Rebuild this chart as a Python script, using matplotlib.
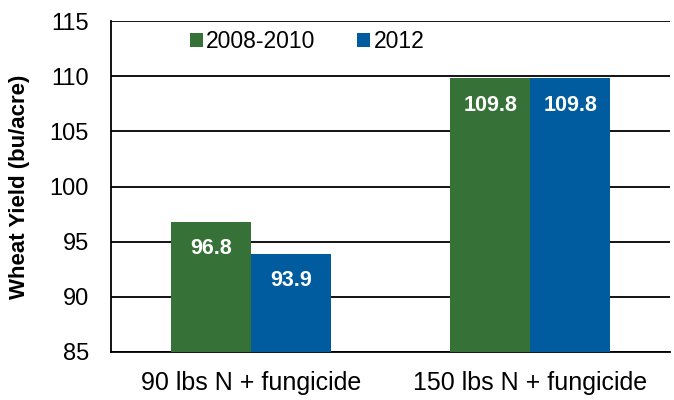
import numpy as np
import matplotlib
matplotlib.use("Agg")
import matplotlib.pyplot as plt

plt.rcParams['font.family'] = ['Liberation Sans Narrow', 'Liberation Sans', 'DejaVu Sans']

# yield data, bu/acre
treatments = ['90 lbs N + fungicide', '150 lbs N + fungicide']
years = ['2008-2010', '2012']
yield_0810 = [96.8, 109.8]
yield_2012 = [93.9, 109.8]
colors = ['#367237', '#005B9F']

fig = plt.figure(figsize=(6.74, 4), dpi=100)
ax = fig.add_axes([111 / 674, 48 / 400, 559 / 674, 331 / 400])

x = np.arange(len(treatments))
w = 0.286
bars1 = ax.bar(x - w / 2, yield_0810, w, color=colors[0], label=years[0], zorder=3)
bars2 = ax.bar(x + w / 2, yield_2012, w, color=colors[1], label=years[1], zorder=3)

for bars in (bars1, bars2):
    for b in bars:
        ax.annotate(f'{b.get_height():.1f}', (b.get_x() + b.get_width() / 2, b.get_height()),
                    xytext=(0, -12), textcoords='offset points', ha='center', va='top',
                    color='white', fontsize=15.5, fontweight='bold', zorder=4)

ax.set_ylim(85, 115)
ax.set_xlim(-0.5, 1.5)
ax.set_yticks(range(85, 116, 5))
ax.set_xticks(x)
ax.set_xticklabels(treatments)
ax.tick_params(axis='y', labelsize=17, length=0, pad=16)
ax.tick_params(axis='x', labelsize=18, length=0, pad=14)
ax.yaxis.grid(True, color='black', linewidth=1.3, zorder=0)
ax.set_axisbelow(True)
for s in ['top', 'right']:
    ax.spines[s].set_visible(False)
ax.spines['left'].set_linewidth(1.3)
ax.spines['bottom'].set_linewidth(1.3)
ax.set_ylabel('Wheat Yield (bu/acre)', fontsize=16, fontweight='bold')
ax.yaxis.set_label_coords(-0.145, 0.5)

ax.legend(loc='center left', bbox_to_anchor=(0.141, 0.937), ncol=2, frameon=False, fontsize=16.5,
          borderpad=0, borderaxespad=0, handlelength=0.57, handleheight=0.57,
          handletextpad=0.15, columnspacing=1.8)

fig.savefig('out.png', dpi=100)
